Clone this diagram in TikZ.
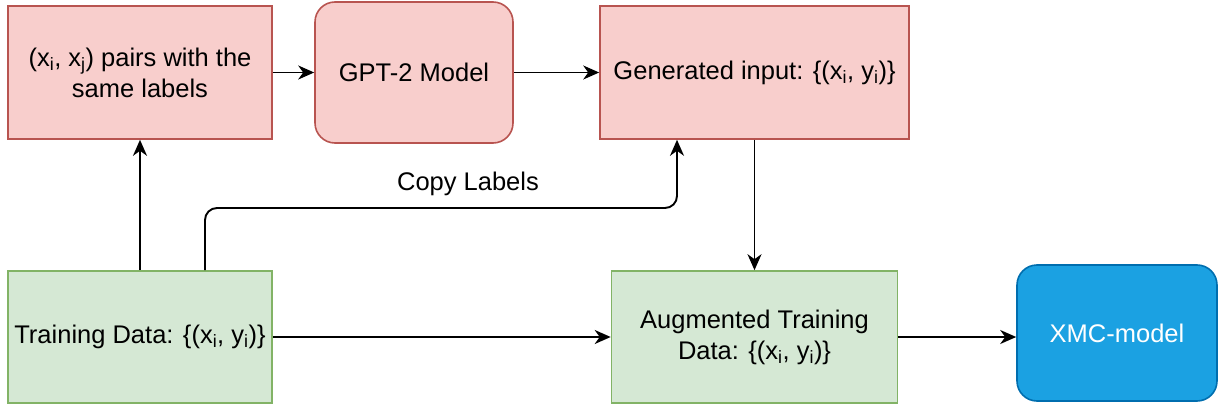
\documentclass[tikz,border=0pt]{standalone}
\usepackage{fontspec}
\setmainfont{Liberation Sans}
\usetikzlibrary{arrows.meta,positioning}
\definecolor{pinkfill}{HTML}{F8CECC}
\definecolor{pinkline}{HTML}{B85450}
\definecolor{greenfill}{HTML}{D5E8D4}
\definecolor{greenline}{HTML}{82B366}
\definecolor{bluefill}{HTML}{1BA1E2}
\definecolor{blueline}{HTML}{006EAF}
\tikzset{
  box/.style={draw, line width=1.6pt, inner sep=0pt, align=center, text=black,
    font=\fontsize{25.5}{31}\selectfont},
  pinkbox/.style={box, fill=pinkfill, draw=pinkline},
  greenbox/.style={box, fill=greenfill, draw=greenline},
  bluebox/.style={box, fill=bluefill, draw=blueline, text=white, rounded corners=20pt},
  arr/.style={line width=1.9pt, -{Stealth[length=16pt,width=14pt,inset=5pt]}},
  lbl/.style={font=\fontsize{25.5}{31}\selectfont, inner sep=0pt}
}
\begin{document}
\begin{tikzpicture}[x=1pt,y=-1pt]
\useasboundingbox (0,0) rectangle (1225,414);
\node[pinkbox, minimum width=264pt, minimum height=133pt] (pairs) at (140,72.5)
  {(x\textsubscript{i}, x\textsubscript{j}) pairs with the\\same labels};
\node[pinkbox, rounded corners=20pt, minimum width=198pt, minimum height=141pt] (gpt) at (414,72.5)
  {GPT-2 Model};
\node[pinkbox, minimum width=309pt, minimum height=133pt] (gen) at (754.5,72.5)
  {Generated input: \{(x\textsubscript{i}, y\textsubscript{i})\}};
\node[greenbox, minimum width=264pt, minimum height=132pt] (train) at (140,337)
  {Training Data: \{(x\textsubscript{i}, y\textsubscript{i})\}};
\node[greenbox, minimum width=286pt, minimum height=132pt] (aug) at (754.5,337)
  {Augmented Training\\Data: \{(x\textsubscript{i}, y\textsubscript{i})\}};
\node[bluebox, minimum width=200pt, minimum height=136pt] (xmc) at (1117,333)
  {XMC-model};
\coordinate (cl) at (468,208);
\node[lbl] (copy) at (468,184) {Copy Labels};
\draw[arr] (pairs.east) -- (gpt.west);
\draw[arr] (gpt.east) -- (gen.west);
\draw[arr] (train.north) -- (pairs.south);
\draw[arr, rounded corners=12pt] ([xshift=65pt]train.north) |- (cl) -| ([xshift=-77.5pt]gen.south);
\draw[arr] (gen.south) -- (aug.north);
\draw[arr] (train.east) -- (aug.west);
\draw[arr] (aug.east) -- (xmc.west |- aug.east);
\end{tikzpicture}
\end{document}
